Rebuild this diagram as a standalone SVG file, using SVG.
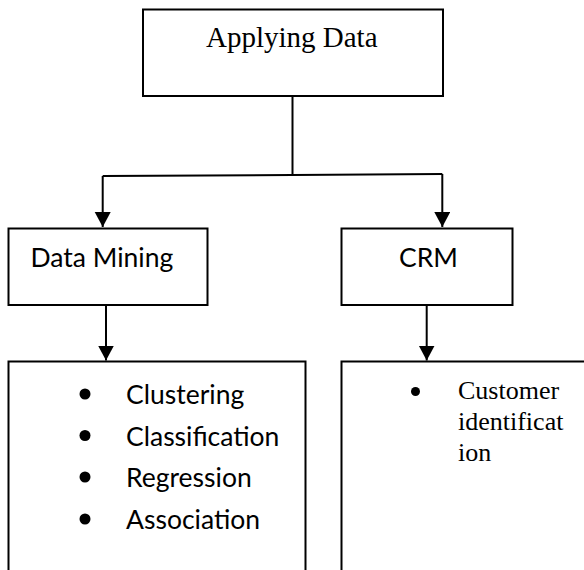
<svg xmlns="http://www.w3.org/2000/svg" width="584" height="570" viewBox="0 0 584 570">
<style>
.box{fill:#fff;stroke:#000;stroke-width:2}
.conn{fill:none;stroke:#000;stroke-width:2}
.serif{font-family:"Liberation Serif","Times New Roman",serif;fill:#000}
.sans{font-family:Lato,"Open Sans",sans-serif;fill:#000;font-size:26.5px}
.dot{fill:#000}
</style>
<defs>
<marker id="arr" markerUnits="userSpaceOnUse" markerWidth="17" markerHeight="17" refX="15" refY="8" orient="auto">
<path d="M0,0 L15,8 L0,16 z" fill="#000"/>
</marker>
</defs>
<rect width="584" height="570" fill="#fff"/>
<g id="applying-data">
<rect class="box" x="143" y="9.5" width="300" height="86.5" stroke-width="2.5"/>
<text class="serif" x="206" y="47" font-size="29">Applying Data</text>
</g>
<g id="data-mining">
<rect class="box" x="8.5" y="228.5" width="199" height="76.5"/>
<text class="sans" x="30.5" y="266.5">Data Mining</text>
</g>
<g id="crm">
<rect class="box" x="341.5" y="228.5" width="171" height="76.5"/>
<text class="sans" x="399" y="266.5">CRM</text>
</g>
<g id="dm-list">
<rect class="box" x="8.5" y="361.5" width="297" height="230"/>
<circle class="dot" cx="85" cy="394" r="5.5"/>
<circle class="dot" cx="85" cy="435.5" r="5.5"/>
<circle class="dot" cx="85" cy="477" r="5.5"/>
<circle class="dot" cx="85" cy="519" r="5.5"/>
<text class="sans" x="126" y="404">Clustering</text>
<text class="sans" x="126" y="445.5">Classification</text>
<text class="sans" x="126" y="487">Regression</text>
<text class="sans" x="126" y="529">Association</text>
</g>
<g id="crm-list">
<rect class="box" x="341.5" y="361.5" width="260" height="230"/>
<circle class="dot" cx="415.5" cy="391.5" r="4.5"/>
<text class="serif" x="458" y="399" font-size="26">Customer</text>
<text class="serif" x="458" y="430" font-size="26">identificat</text>
<text class="serif" x="458" y="461" font-size="26">ion</text>
</g>
<g id="connectors">
<path class="conn" d="M292.5,96 V175"/>
<path class="conn" d="M102.7,176 L292.5,175 L442.3,174"/>
<path class="conn" d="M102.7,176 V227" marker-end="url(#arr)"/>
<path class="conn" d="M442.3,174 V227" marker-end="url(#arr)"/>
<path class="conn" d="M106,305 V360.5" marker-end="url(#arr)"/>
<path class="conn" d="M426.7,305 V360.5" marker-end="url(#arr)"/>
</g>
</svg>
